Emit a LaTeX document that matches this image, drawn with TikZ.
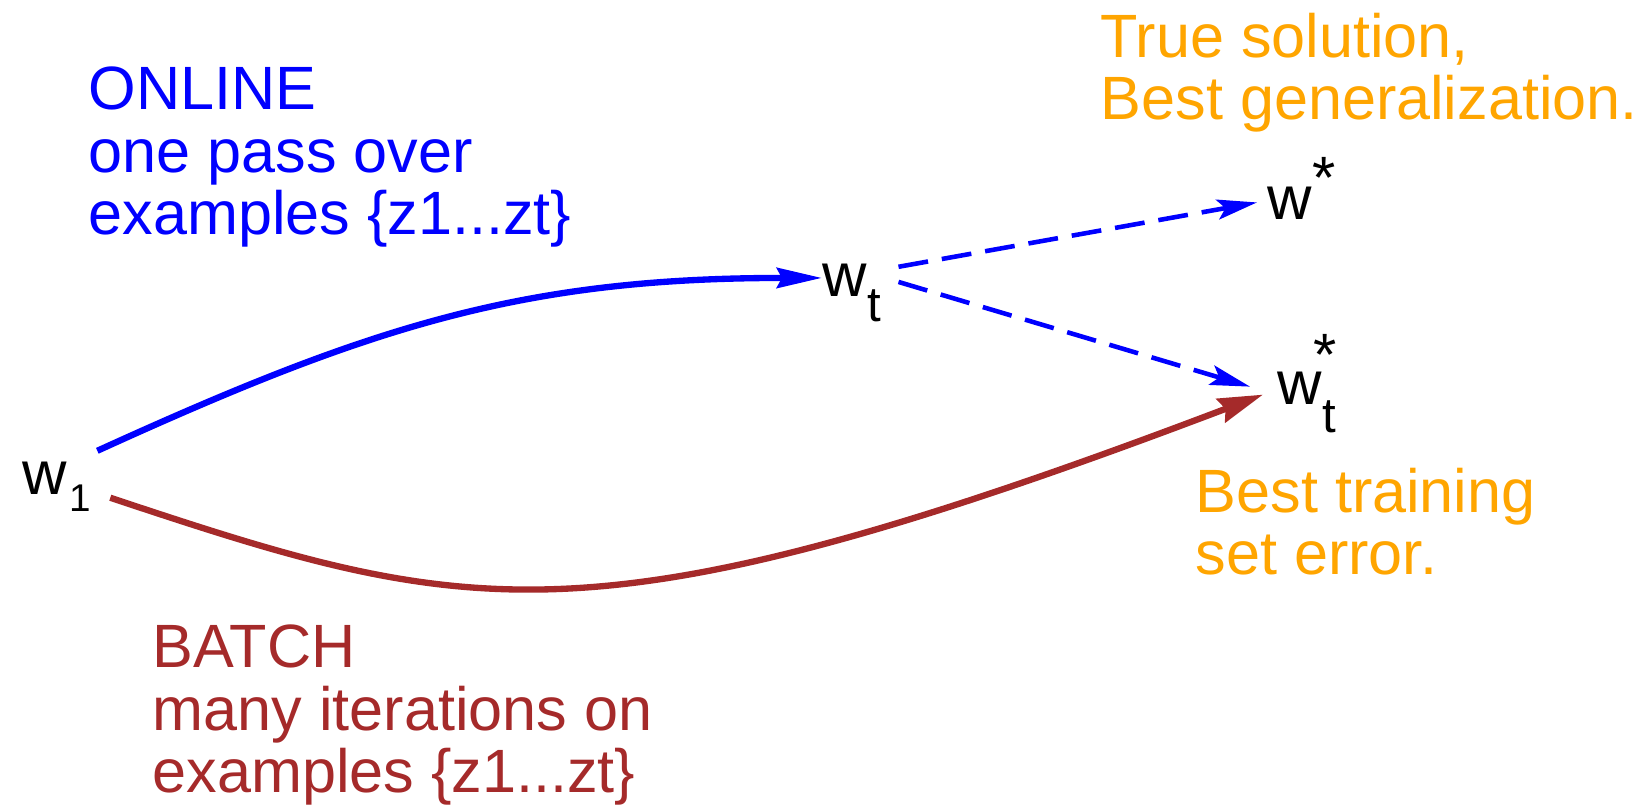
\documentclass[tikz,border=0pt]{standalone}
\usepackage{fontspec}
\setmainfont{Liberation Sans}
\usepackage{xcolor}
\usetikzlibrary{arrows.meta,positioning}

\definecolor{onlineblue}{RGB}{0,0,255}
\definecolor{batchred}{RGB}{165,42,42}
\definecolor{goodorange}{RGB}{255,165,0}

\begin{document}
\begin{tikzpicture}[
    wlabel/.style={inner sep=0pt, anchor=base west, font=\fontsize{17.5}{18}\selectfont},
    blocktext/.style={inner sep=0pt, anchor=base west, align=left, font=\fontsize{17.4}{17.9}\selectfont},
    onlinepath/.style={onlineblue, line width=1.8pt, -{Stealth[length=0.45cm, width=0.2cm, inset=0.05cm]}},
    dashpath/.style={onlineblue, line width=1.3pt, dash pattern=on 0.3cm off 0.14cm,
        -{Stealth[length=0.4cm, width=0.2cm, inset=0.08cm]}},
    batchpath/.style={batchred, line width=1.8pt, -{Stealth[length=0.45cm, width=0.25cm, inset=0.05cm]}}
]
    \useasboundingbox (0,0) rectangle (16.5,-8.06);

    % Weight labels
    \node[wlabel] (w1) at (0.22,-4.95) {w\kern0.02cm\raisebox{-0.17cm}{\fontsize{11}{11}\selectfont 1}};
    \node[wlabel] (wt) at (8.22,-2.97) {w\raisebox{-0.25cm}{\fontsize{14}{14}\selectfont t}};
    \node[wlabel] (wstar) at (12.67,-2.20) {w\raisebox{0.21cm}{\fontsize{17}{17}\selectfont *}};
    \node[wlabel] (wtstar) at (12.77,-4.05)
        {w\raisebox{-0.28cm}{\fontsize{14}{14}\selectfont t}\kern-0.22cm\raisebox{0.29cm}{\fontsize{17}{17}\selectfont *}};

    % Text blocks (base = last line)
    \node[blocktext, onlineblue] (online) at (0.88,-2.35)
        {ONLINE\\one pass over\\examples \{z1...zt\}};
    \node[blocktext, batchred] (batch) at (1.52,-7.93)
        {BATCH\\many iterations on\\examples \{z1...zt\}};
    \node[blocktext, goodorange] (truesol) at (11.00,-1.20)
        {True solution,\\Best generalization.};
    \node[blocktext, goodorange] (besttrain) at (11.95,-5.75)
        {Best training\\set error.};

    % Online path
    \draw[onlinepath] ([shift={(0.06,0.11)}]w1.north east)
        .. controls +(24.5:3) and +(180:3) .. ([yshift=0.155cm]wt.west);

    % From w_t to the optima
    \draw[dashpath] ([shift={(0.17,-0.03)}]wt.north east) -- ([shift={(-0.10,-0.135)}]wstar.west);
    \draw[dashpath] ([shift={(0.17,0.115)}]wt.east) -- ([shift={(-0.27,-0.025)}]wtstar.west);

    % Batch path
    \draw[batchpath] ([shift={(0.19,-0.105)}]w1.east)
        .. controls +(-18.4:3.8) and +(200.8:7.2) .. ([shift={(-0.14,-0.105)}]wtstar.west);
\end{tikzpicture}
\end{document}
